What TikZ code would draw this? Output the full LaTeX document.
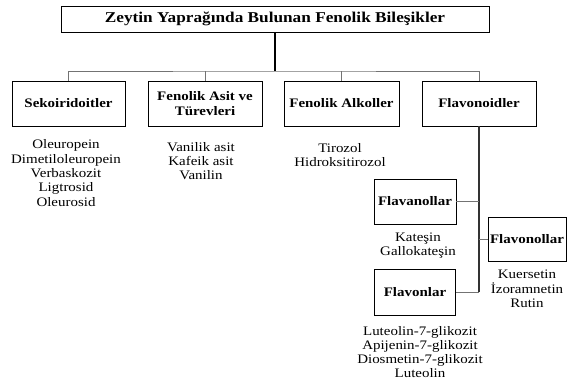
\documentclass[tikz,border=0pt]{standalone}
\usepackage{fontspec}
\setmainfont{Liberation Serif}[FakeStretch=1.15]
\usetikzlibrary{calc}

\begin{document}
\begin{tikzpicture}[x=1pt, y=-1pt,
	box/.style={draw, line width=.8pt, font=\fontsize{13}{15}\selectfont\bfseries, align=center, inner sep=1pt, minimum height=45},
	list/.style={align=center, font=\fontsize{13}{14.3}\selectfont},
	conn/.style={draw=black!55, line width=1pt},
	stem/.style={line width=1.5pt}]
	
	\fill[white] (0,0) rectangle (567,383);
	\useasboundingbox (0,0) rectangle (567,383);
	
	\node[box, font=\fontsize{15}{16}\selectfont\bfseries, minimum width=428, minimum height=26] (title) at (275,19) {Zeytin Yaprağında Bulunan Fenolik Bileşikler};
	
	\node[box, minimum width=113] (sek) at (68.5,103.5) {Sekoiridoitler};
	\node[box, minimum width=114] (asit) at (205,103.5) {Fenolik Asit ve\\Türevleri};
	\node[box, minimum width=115] (alk) at (341.5,103.5) {Fenolik Alkoller};
	\node[box, minimum width=114] (flv) at (479,103.5) {Flavonoidler};
	
	\coordinate (bus) at (275,71);
	\draw[stem] (title) -- (bus);
	\draw[conn] (sek.north) |- (bus) -| (flv.north);
	\draw[conn] (asit.north) -- (asit.north |- bus);
	\draw[conn] (alk.north) -- (alk.north |- bus);
	
	\node[list] (sekl) at (66,173) {Oleuropein\\Dimetiloleuropein\\Verbaskozit\\Ligtrosid\\Oleurosid};
	\node[list] (asitl) at (201,161) {Vanilik asit\\Kafeik asit\\Vanilin};
	\node[list] (alkl) at (340,155) {Tirozol\\Hidroksitirozol};
	
	\node[box, minimum width=82] (flnol) at (415,201.5) {Flavanollar};
	\node[box, minimum width=78, minimum height=44] (flvnol) at (527,239) {Flavonollar};
	\node[box, minimum width=81, minimum height=46] (flvn) at (415,292) {Flavonlar};
	
	\draw[stem, line width=1.2pt, black!80] (flv.south) -- (flv.south |- flvn.east);
	\draw[conn] (flnol.east) -- (flnol.east -| flv.south);
	\draw[conn] (flvnol.west) -- (flvnol.west -| flv.south);
	\draw[conn] (flvn.east) -- (flvn.east -| flv.south);
	
	\node[list] (flnoll) at (418,245.5) {Kateşin\\Gallokateşin};
	\node[list] (flvnoll) at (527,289) {Kuersetin\\İzoramnetin\\Rutin};
	\node[list] (flvnl) at (420,352) {Luteolin-7-glikozit\\Apijenin-7-glikozit\\Diosmetin-7-glikozit\\Luteolin};
	
\end{tikzpicture}
\end{document}
